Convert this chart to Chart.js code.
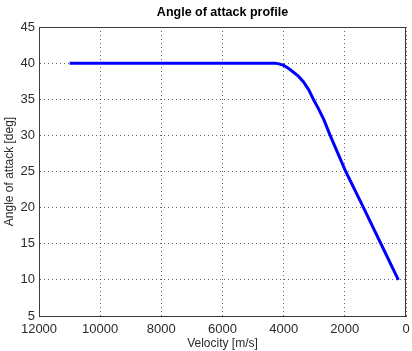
<!DOCTYPE html>
<html>
<head>
<meta charset="utf-8">
<script src="https://cdn.jsdelivr.net/npm/chart.js@4/dist/chart.umd.min.js"></script>
<style>
  html, body { margin: 0; padding: 0; background: #fff; }
  #wrap { width: 412px; height: 351px; }
</style>
</head>
<body>
<div id="wrap"><canvas id="aoa"></canvas></div>
<script>
'use strict';

// velocity [m/s] and angle of attack [deg]
const velocity = [11000, 4300, 4150, 4000, 3850, 3700, 3520, 3350, 3180, 3030, 2850, 2680, 2480, 1970, 1390, 820, 250];
const angle    = [40,    40,   39.9, 39.7, 39.3, 38.8, 38.2, 37.4, 36.3, 35,   33.6, 32.1, 30,   25,   20,   15,  10];

const xTicks = [0, 2000, 4000, 6000, 8000, 10000, 12000];
const yTicks = [5, 10, 15, 20, 25, 30, 35, 40, 45];

const points = velocity.map((v, i) => ({ x: v, y: angle[i] }));

const FONT = '"Liberation Sans", Arial, Helvetica, sans-serif';

// MATLAB style box round the axes
const boxPlugin = {
  id: 'box',
  afterDraw(chart) {
    const { ctx, chartArea: a } = chart;
    ctx.save();
    ctx.strokeStyle = '#3c3c3c';
    ctx.lineWidth = 1;
    ctx.strokeRect(a.left + 0.5, a.top + 0.5, a.right - a.left - 1, a.bottom - a.top);
    ctx.restore();
  }
};

const grid = {
  color: 'rgba(0,0,0,0.6)',
  lineWidth: 1,
  drawTicks: false
};

new Chart(document.getElementById('aoa').getContext('2d'), {
  type: 'line',
  data: {
    datasets: [{
      data: points,
      borderColor: '#0000ff',
      borderWidth: 3,
      pointRadius: 0,
      tension: 0,
      fill: false
    }]
  },
  options: {
    responsive: true,
    maintainAspectRatio: false,
    animation: false,
    layout: { padding: { left: 0, right: 6, top: 0, bottom: 0 } },
    plugins: {
      legend: { display: false },
      tooltip: { enabled: false },
      title: {
        display: true,
        fullSize: false,
        text: 'Angle of attack profile',
        color: '#000',
        font: { family: FONT, size: 12.5, weight: 'bold' },
        padding: { top: 5.5, bottom: 6.5 }
      }
    },
    scales: {
      x: {
        type: 'linear',
        reverse: true,
        min: 0,
        max: 12000,
        afterBuildTicks: s => { s.ticks = xTicks.map(v => ({ value: v })); },
        afterFit: s => { s.height = 35; },
        grid: grid,
        border: { display: true, color: '#3c3c3c', dash: [1, 3] },
        ticks: {
          color: '#2b2b2b',
          font: { family: FONT, size: 13 },
          padding: 6,
          maxRotation: 0,
          autoSkip: false,
          callback: v => String(v)
        },
        title: {
          display: true,
          text: 'Velocity [m/s]',
          color: '#2b2b2b',
          font: { family: FONT, size: 12 },
          padding: { top: 0, bottom: 0 }
        }
      },
      y: {
        min: 5,
        max: 45,
        afterBuildTicks: s => { s.ticks = yTicks.map(v => ({ value: v })); },
        afterFit: s => { s.width = 39; },
        grid: grid,
        border: { display: true, color: '#3c3c3c', dash: [1, 3] },
        ticks: {
          color: '#2b2b2b',
          font: { family: FONT, size: 13 },
          padding: 4,
          autoSkip: false,
          callback: v => String(v)
        },
        title: {
          display: true,
          text: 'Angle of attack [deg]',
          color: '#2b2b2b',
          font: { family: FONT, size: 12 },
          padding: { top: 2, bottom: 0 }
        }
      }
    }
  },
  plugins: [boxPlugin]
});
</script>
</body>
</html>
